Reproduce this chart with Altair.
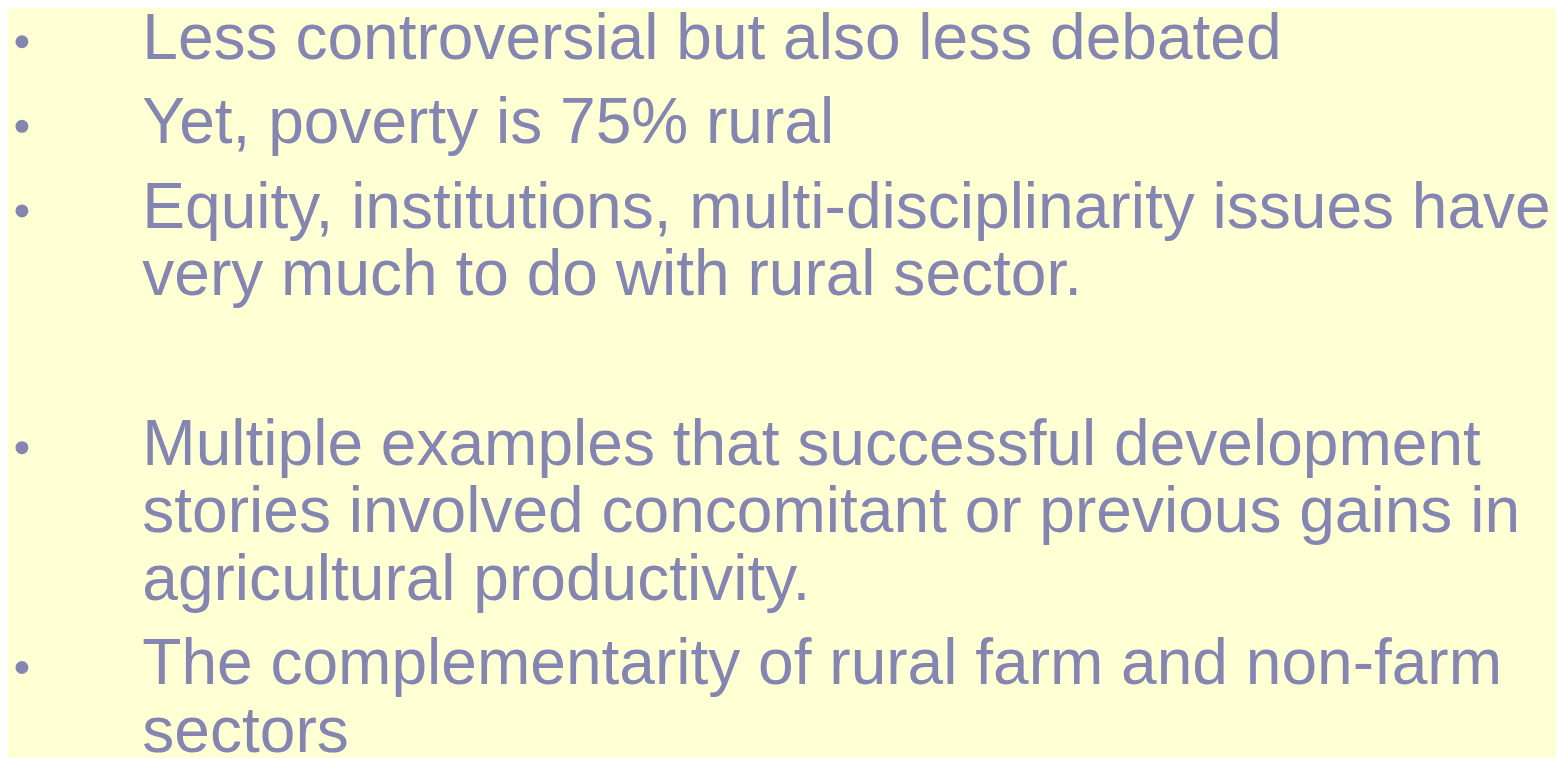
import altair as alt
import pandas as pd

# Slide content: (starts a new bullet paragraph?, text). Empty text = blank paragraph.
paragraph_start = [True, True, True, False, True, True, False, False, True, False]
line_texts = [
    "Less controversial but also less debated",
    "Yet, poverty is 75% rural",
    "Equity, institutions, multi-disciplinarity issues have",
    "very much to do with rural sector.",
    "",
    "Multiple examples that successful development",
    "stories involved concomitant or previous gains in",
    "agricultural productivity.",
    "The complementarity of rural farm and non-farm",
    "sectors",
]
bullet_shown = [True, True, True, False, False, True, False, False, True, False]

BG = "#FFFFD4"
FG = "#8585B2"
FONT = "Liberation Sans"
FONT_SIZE = 64.4
LINE_H = 68
PARA_GAP = 17
FIRST_BASELINE = 57
TEXT_X = 143
BULLET_X = 22
BULLET_RISE = 17

rows = []
y = FIRST_BASELINE - LINE_H - PARA_GAP
for start, txt, bul in zip(paragraph_start, line_texts, bullet_shown):
    y += LINE_H + (PARA_GAP if start else 0)
    rows.append({"x": TEXT_X, "y": y, "text": txt, "bx": BULLET_X,
                 "by": y - BULLET_RISE, "bullet": bul})
df = pd.DataFrame(rows)

W, H = 1556, 750
xs = alt.Scale(domain=[8, 8 + W], range=[0, W])
ys = alt.Scale(domain=[8, 8 + H], range=[0, H])

text = alt.Chart(df).transform_filter("datum.text != ''").mark_text(
    align="left", baseline="alphabetic", font=FONT, fontSize=FONT_SIZE, color=FG
).encode(
    x=alt.X("x:Q", scale=xs, axis=None),
    y=alt.Y("y:Q", scale=ys, axis=None),
    text="text:N",
)

bullets = alt.Chart(df).transform_filter("datum.bullet").mark_circle(
    size=170, color=FG, opacity=1
).encode(
    x=alt.X("bx:Q", scale=xs, axis=None),
    y=alt.Y("by:Q", scale=ys, axis=None),
)

chart = alt.layer(bullets, text).properties(
    width=W, height=H, background=BG, padding=0, autosize="none"
).configure_view(stroke=None)

chart.save("out.html", embed_options={"renderer": "svg", "actions": False})
